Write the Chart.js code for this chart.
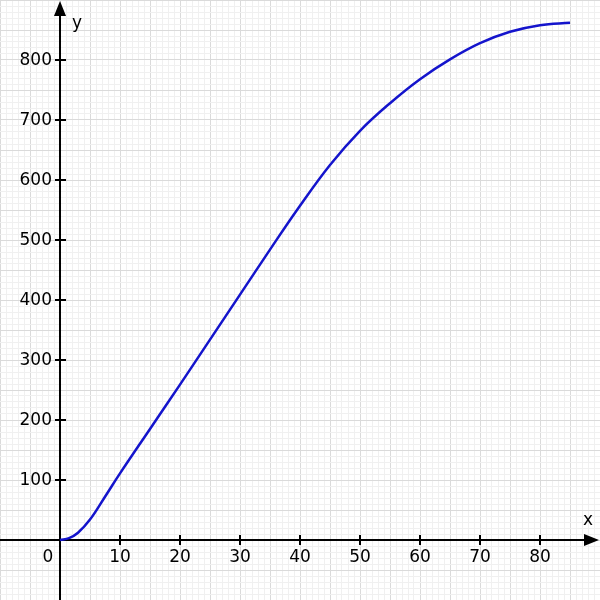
<!DOCTYPE html>
<html>
<head>
<meta charset="utf-8">
<script src="https://cdn.jsdelivr.net/npm/chart.js@4.4.0/dist/chart.umd.min.js"></script>
<style>
  html, body { margin: 0; padding: 0; background: #fff; }
</style>
</head>
<body>
<canvas id="myChart" width="600" height="600"></canvas>
<script>
// values
const xValues = [0, 1.5, 3, 5, 7.5, 10, 15, 20, 25, 30, 35, 40, 45, 50, 55, 60, 65, 70, 75, 80, 85];
const yValues = [0, 3, 12, 34, 72, 111, 185, 259, 334, 409, 484, 557, 625, 682, 728, 768, 801, 828, 847, 858, 862];
const xTickLabels = [10, 20, 30, 40, 50, 60, 70, 80];
const yTickLabels = [100, 200, 300, 400, 500, 600, 700, 800];

const FONT = '17px "DejaVu Sans", Verdana, sans-serif';

const axesPlugin = {
  id: "axes",
  beforeDatasetsDraw(chart) {
    const ctx = chart.ctx;
    const sx = chart.scales.x;
    const sy = chart.scales.y;
    const x0 = Math.round(sx.getPixelForValue(0));
    const y0 = Math.round(sy.getPixelForValue(0));
    const right = sx.right;
    const top = sy.top;

    ctx.save();
    ctx.strokeStyle = "#000";
    ctx.fillStyle = "#000";
    ctx.lineWidth = 2;

    // axis lines
    ctx.beginPath();
    ctx.moveTo(sx.left, y0);
    ctx.lineTo(right - 10, y0);
    ctx.moveTo(x0, sy.bottom);
    ctx.lineTo(x0, top + 10);
    ctx.stroke();

    // arrow heads
    ctx.beginPath();
    ctx.moveTo(right - 1, y0);
    ctx.lineTo(right - 16, y0 - 6);
    ctx.lineTo(right - 16, y0 + 6);
    ctx.closePath();
    ctx.fill();
    ctx.beginPath();
    ctx.moveTo(x0, top + 1);
    ctx.lineTo(x0 - 6, top + 16);
    ctx.lineTo(x0 + 6, top + 16);
    ctx.closePath();
    ctx.fill();

    // tick marks
    ctx.beginPath();
    xTickLabels.forEach((v) => {
      const px = Math.round(sx.getPixelForValue(v));
      ctx.moveTo(px, y0 - 5);
      ctx.lineTo(px, y0 + 5);
    });
    yTickLabels.forEach((v) => {
      const py = Math.round(sy.getPixelForValue(v));
      ctx.moveTo(x0 - 5, py);
      ctx.lineTo(x0 + 6, py);
    });
    ctx.stroke();

    // labels
    ctx.font = FONT;
    ctx.textBaseline = "middle";
    ctx.textAlign = "center";
    xTickLabels.forEach((v) => {
      ctx.fillText(String(v), sx.getPixelForValue(v), y0 + 18);
    });
    ctx.fillText("0", x0 - 12, y0 + 18);
    ctx.textAlign = "right";
    yTickLabels.forEach((v) => {
      ctx.fillText(String(v), x0 - 8, sy.getPixelForValue(v) + 1);
    });
    ctx.textAlign = "center";
    ctx.fillText("x", right - 12, y0 - 19);
    ctx.textBaseline = "alphabetic";
    ctx.fillText("y", x0 + 17, top + 28);
    ctx.restore();
  },
};

const gridColor = (step) => (c) =>
  c.tick.value % step === 0 ? "#dadada" : "#f0f0f0";

new Chart(document.getElementById("myChart"), {
  type: "line",
  data: {
    datasets: [
      {
        data: xValues.map((x, i) => ({ x: x, y: yValues[i] })),
        borderColor: "#1414cc",
        borderWidth: 2.5,
        pointRadius: 0,
        tension: 0.4,
        fill: false,
      },
    ],
  },
  options: {
    responsive: false,
    animation: false,
    layout: { padding: 0 },
    plugins: {
      legend: { display: false },
      tooltip: { enabled: false },
    },
    scales: {
      x: {
        type: "linear",
        min: -10,
        max: 90,
        border: { display: false },
        grid: { color: gridColor(5), drawTicks: false, lineWidth: 1 },
        ticks: { display: false, stepSize: 1, maxTicksLimit: 200 },
      },
      y: {
        type: "linear",
        min: -100,
        max: 900,
        border: { display: false },
        grid: { color: gridColor(50), drawTicks: false, lineWidth: 1 },
        ticks: { display: false, stepSize: 10, maxTicksLimit: 200 },
      },
    },
  },
  plugins: [axesPlugin],
});
</script>
</body>
</html>
